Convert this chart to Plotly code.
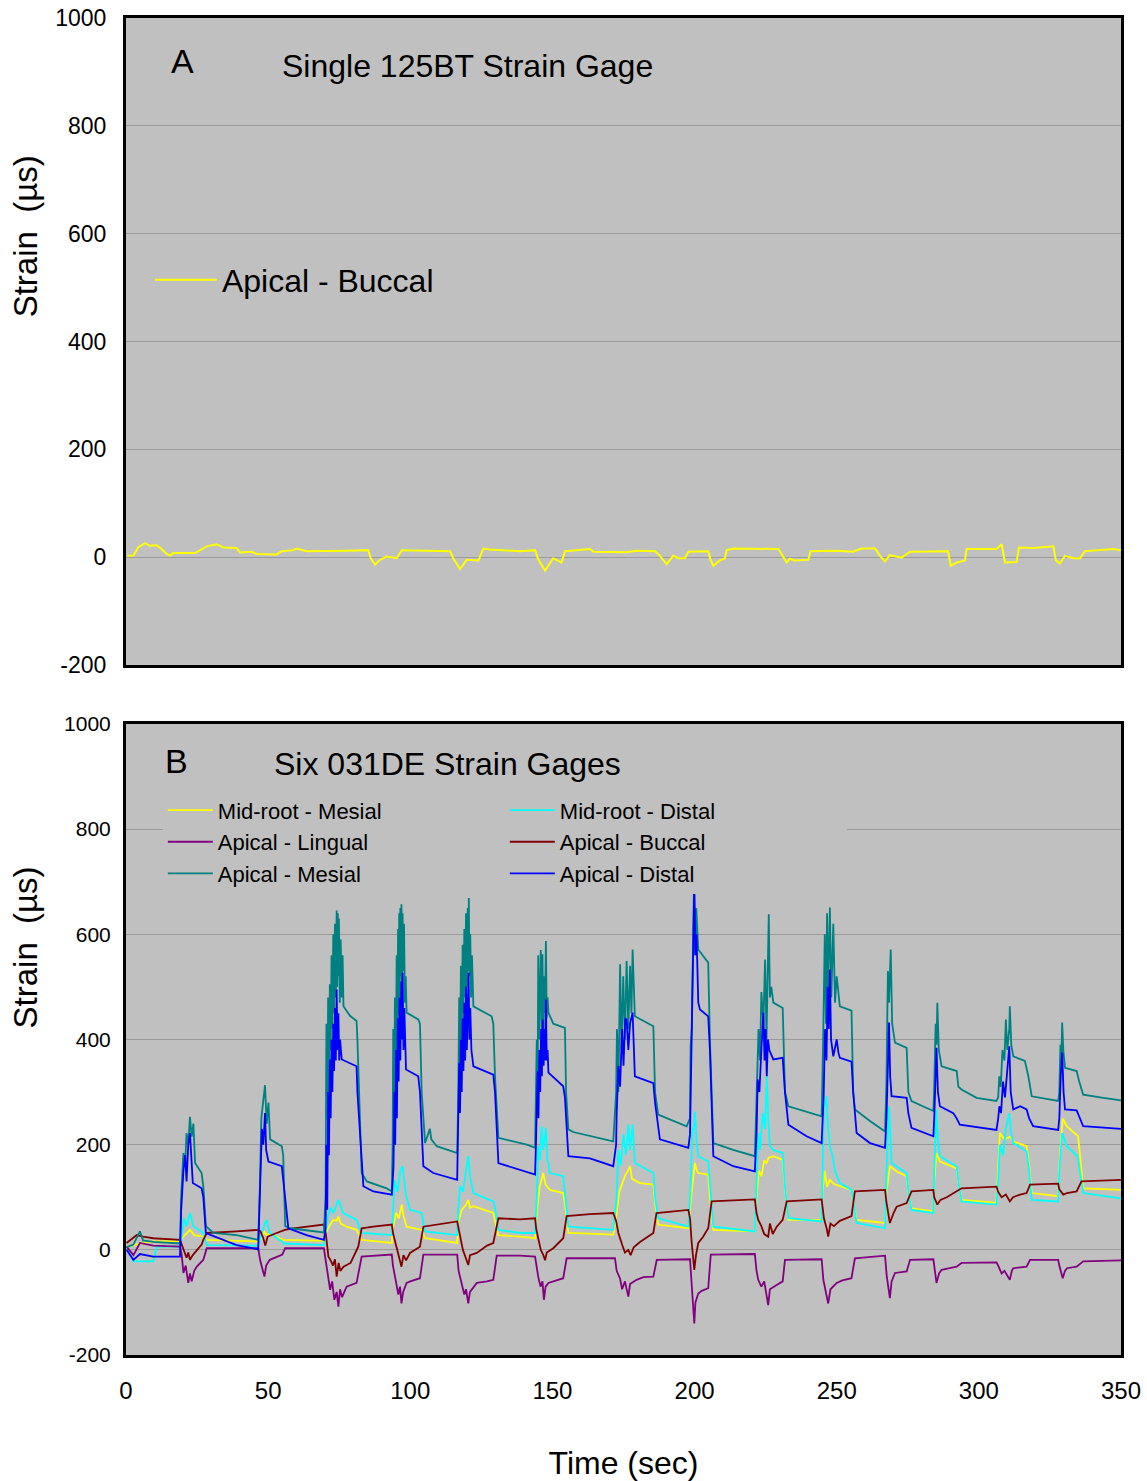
import plotly.graph_objects as go

FONT = "Liberation Sans, Arial, Helvetica, sans-serif"

# ---------------- Panel A : single 125BT gage (Apical - Buccal) ----------------
t_a = [0.5, 2.6, 4.3, 6.7, 8.4, 10.8, 12.5, 14.3, 15.5, 16.6, 24.3, 26.6, 28.4, 31.9, 34.2, 38.9, 40.1,
       44.2, 46.0, 53.0, 54.8, 58.9, 60.0, 63.5, 70.6, 77.6, 85.2, 86.1, 87.6, 89.3, 91.7, 95.2, 97.0,
       114.0, 115.1, 117.5, 119.8, 124.0, 125.7, 127.9, 138.6, 143.9, 145.0, 147.4, 150.3, 153.2, 154.4,
       163.2, 164.4, 176.1, 179.6, 186.1, 187.2, 190.2, 192.5, 194.3, 196.6, 197.8, 204.8, 205.6, 206.6,
       208.9, 210.7, 211.3, 213.6, 229.5, 230.6, 232.4, 233.5, 235.3, 240.0, 240.8, 250.0, 255.8, 258.8,
       263.5, 265.2, 267.0, 268.7, 272.8, 275.8, 289.2, 290.1, 292.2, 295.1, 295.7, 306.2, 308.0, 309.2,
       313.3, 314.1, 319.1, 326.2, 327.1, 328.5, 330.3, 333.2, 335.6, 337.3, 347.3, 350.0]
v_a = [2.5, 3, 18, 26, 21, 22, 15, 6, 3, 7.5, 7.5, 15, 20, 24, 18, 17, 8.7,
       10, 6, 5, 11, 13, 16, 11, 11, 12, 13, -2, -14, -5, 1, -2, 13,
       11, -2, -22, -5, -6, 16, 14, 11, 13, -4, -25, -2, -10, 11,
       15, 10, 9, 12, 11, 6, -13, 2.5, -2, -2, 10, 11, -4, -16,
       -6, -2, 13, 16, 15, 6, -10, -3, -6, -5, 11, 12, 10, 16,
       16, 2.5, -8, 3.7, -1, 10, 11, -16, -10, -6, 15, 15, 24, -10,
       -9, 18, 17, 20, -6, -12, 2.5, -2, -2, 11, 15, 13]

# ---------------- Panel B : six 031DE gages ----------------
# Mid-root - Mesial (yellow)
t_mm = [0.2, 4.9, 9.6, 19.0, 19.6, 21.3, 22.5, 24.0, 27.2, 28.4, 46.5,
        47.4, 48.5, 49.5, 50.6, 55.3, 69.6,
        70.2, 71.5, 72.9, 74.1, 74.7, 75.5, 77.6, 81.1, 82.9, 93.5,
        93.8, 95.0, 96.0, 97.0, 97.6, 98.7, 104.0, 105.2, 116.5,
        116.9, 118.0, 119.5, 120.4, 121.0, 122.2, 129.2, 129.8, 131.0, 138.6, 143.9,
        144.7, 145.5, 146.8, 147.5, 148.5, 149.1, 153.8, 154.6, 155.6, 171.4,
        172.6, 173.5, 174.5, 175.5, 176.7, 177.3, 178.0, 180.8, 185.5, 186.1, 187.2, 197.8,
        198.6, 199.5, 200.1, 200.8, 201.3, 204.8, 205.4, 206.6, 221.2,
        221.8, 222.6, 223.5, 224.5, 225.3, 226.0, 227.7, 231.0, 231.8, 233.0, 244.7,
        245.0, 245.8, 246.6, 247.6, 249.0, 251.1, 255.2, 255.8, 257.0, 267.0,
        267.5, 268.7, 271.1, 274.6, 275.2, 276.3, 284.0,
        284.3, 285.1, 286.3, 292.2, 292.8, 293.9, 306.2,
        306.8, 307.4, 309.0, 310.9, 312.5, 316.8, 317.7, 318.6, 327.9,
        328.3, 329.5, 330.9, 333.0, 334.9, 335.6, 336.7, 350.0]
v_mm = [6, 12, 16, 16, 22, 32, 38, 28, 25, 19, 16,
        20, 35, 28, 30, 19, 17,
        30, 45, 57, 55, 63, 50, 44, 38, 19, 13,
        40, 70, 60, 86, 65, 44, 38, 22, 13,
        50, 75, 85, 95, 80, 83, 70, 55, 28, 25, 22,
        80, 120, 146, 125, 118, 114, 108, 80, 32, 29,
        70, 110, 125, 140, 152, 159, 135, 127, 124, 90, 48, 41,
        90, 140, 165, 150, 146, 143, 100, 38, 35,
        100, 150, 140, 170, 165, 175, 178, 171, 120, 57, 57,
        110, 150, 120, 133, 125, 121, 114, 90, 57, 51,
        110, 159, 149, 140, 110, 79, 73,
        130, 184, 168, 155, 130, 95, 89,
        150, 222, 210, 215, 205, 197, 160, 108, 102,
        160, 250, 235, 225, 216, 180, 117, 114]

# Mid-root - Distal (cyan)
t_md = [0.2, 2.6, 9.6, 10.8, 19.0,
        19.6, 20.5, 21.3, 22.5, 23.7, 27.2, 28.4, 46.5,
        47.4, 48.5, 49.5, 50.6, 54.8, 55.5, 69.6,
        70.2, 71.0, 72.0, 73.0, 74.7, 76.4, 81.1, 82.9, 93.5,
        93.8, 94.5, 95.5, 96.5, 97.3, 98.0, 98.5, 99.9, 104.0, 105.2, 116.5,
        116.9, 117.5, 118.5, 119.5, 120.4, 121.0, 122.2, 129.2, 129.8, 131.0, 138.6, 143.9,
        144.5, 145.0, 145.6, 146.2, 146.8, 147.7, 148.2, 148.6, 149.1, 153.8, 154.6, 155.6, 171.4,
        172.6, 173.2, 174.0, 175.0, 175.8, 176.7, 177.3, 178.2, 178.6, 179.0, 185.5, 186.1, 187.2, 197.8,
        198.6, 199.2, 199.9, 200.1, 200.8, 201.3, 204.8, 205.4, 206.6, 221.2,
        221.8, 222.4, 223.0, 224.0, 224.8, 225.4, 225.9, 226.5, 227.7, 231.0, 231.8, 233.0, 244.7,
        245.0, 245.5, 246.4, 247.0, 247.6, 248.5, 249.4, 251.1, 255.2, 255.8, 257.0, 267.0,
        267.5, 268.4, 269.3, 274.6, 275.2, 276.3, 284.0,
        284.3, 285.1, 285.6, 286.3, 292.2, 292.8, 293.9, 306.2,
        306.8, 307.4, 308.5, 309.5, 310.7, 311.4, 312.1, 316.8, 317.7, 318.6, 327.9,
        328.3, 329.3, 330.9, 334.7, 335.6, 336.7, 350.0]
v_md = [6, -22, -22, 6, 6,
        32, 60, 45, 70, 45, 32, 9, 8,
        25, 45, 57, 32, 16, 12, 9,
        30, 63, 80, 70, 95, 70, 57, 32, 28,
        60, 133, 110, 150, 159, 120, 103, 76, 70, 35, 28,
        80, 121, 110, 150, 178, 140, 108, 92, 80, 38, 32, 32,
        100, 197, 170, 235, 190, 232, 170, 165, 146, 140, 100, 44, 38,
        100, 190, 160, 220, 180, 238, 190, 238, 190, 165, 146, 100, 60, 44,
        120, 220, 240, 263, 200, 178, 168, 120, 44, 35,
        150, 222, 190, 260, 230, 330, 250, 197, 190, 184, 120, 60, 54,
        150, 267, 292, 230, 197, 180, 150, 127, 114, 90, 51, 41,
        150, 273, 165, 146, 110, 76, 70,
        150, 267, 210, 178, 159, 130, 92, 86,
        130, 200, 180, 230, 260, 220, 203, 187, 150, 95, 92,
        150, 222, 197, 178, 150, 108, 98]

# Apical - Lingual (purple)
t_al = [0.2, 2.6, 4.9, 9.6, 19.0,
        19.6, 20.2, 21.0, 21.9, 22.5, 23.1, 24.0, 24.9, 26.0, 27.2, 28.4, 46.5,
        47.2, 48.0, 48.7, 49.3, 50.6, 55.0, 56.0, 69.6,
        70.3, 71.0, 71.8, 72.5, 73.3, 74.1, 74.7, 75.3, 76.0, 77.6, 81.1, 82.9, 93.5,
        93.9, 95.0, 95.8, 96.4, 96.9, 97.5, 98.7, 100.0, 103.4, 104.6, 116.5,
        117.0, 118.0, 119.0, 119.6, 120.4, 121.0, 123.4, 127.0, 129.2, 130.4, 138.6, 143.9,
        144.3, 145.0, 145.8, 146.5, 147.0, 147.6, 148.6, 150.3, 153.8, 155.0, 172.0,
        172.6, 173.8, 174.5, 175.5, 176.7, 177.3, 179.6, 182.0, 185.5, 186.7, 198.4,
        198.8, 199.4, 199.9, 200.3, 201.3, 202.5, 204.8, 205.7, 221.2,
        221.8, 222.4, 223.5, 224.5, 225.9, 226.5, 228.9, 231.0, 231.8, 244.7,
        245.3, 246.2, 247.0, 247.8, 250.0, 252.0, 255.2, 256.4, 267.0,
        267.6, 268.7, 269.3, 270.5, 274.6, 275.8, 284.0,
        284.5, 285.1, 286.0, 286.9, 292.2, 293.9, 306.2,
        306.8, 308.0, 309.0, 310.9, 311.6, 312.1, 316.8, 318.0, 327.9,
        328.3, 329.5, 330.3, 331.0, 334.4, 336.7, 350.0]
v_al = [6, -10, 13, 8, 6,
        -10, -44, -30, -63, -45, -60, -40, -32, -25, -19, 3, 3,
        -20, -35, -51, -30, -19, -9, 3, 3,
        -20, -50, -76, -60, -95, -80, -108, -75, -90, -70, -63, -13, -9,
        -30, -60, -85, -70, -102, -80, -63, -60, -54, -9, -9,
        -40, -60, -85, -75, -102, -80, -63, -60, -57, -11, -11, -13,
        -30, -51, -70, -60, -95, -70, -63, -60, -54, -16, -16,
        -40, -55, -75, -60, -89, -65, -57, -52, -51, -19, -18,
        -50, -90, -140, -100, -83, -78, -73, -9, -8,
        -40, -57, -70, -60, -105, -75, -67, -60, -19, -18,
        -57, -80, -102, -75, -63, -58, -54, -16, -11,
        -50, -92, -60, -44, -41, -19, -18,
        -40, -63, -45, -38, -32, -25, -24,
        -30, -45, -40, -57, -40, -35, -32, -19, -19,
        -30, -54, -40, -35, -32, -22, -20]

# Apical - Buccal (maroon)
t_ab = [0.2, 3.8, 6.0, 9.6, 19.0,
        19.6, 20.5, 21.3, 21.9, 22.5, 23.5, 24.9, 26.6, 27.2, 28.4, 38.9, 46.5,
        47.3, 48.3, 49.0, 49.8, 53.0, 55.9, 58.9, 69.6,
        70.3, 71.2, 72.0, 72.8, 73.5, 74.1, 74.8, 75.4, 76.5, 79.0, 81.7, 82.9, 87.0, 93.5,
        94.0, 95.2, 96.0, 96.9, 97.6, 98.5, 99.9, 103.4, 104.6, 110.0, 116.5,
        117.0, 117.5, 118.5, 119.5, 120.4, 121.0, 123.4, 127.0, 129.2, 131.0, 138.6, 143.9,
        144.3, 145.0, 145.9, 146.8, 147.4, 148.0, 150.3, 153.8, 155.0, 163.2, 171.4,
        172.4, 173.2, 174.5, 175.5, 176.7, 177.5, 178.6, 180.8, 185.5, 186.6, 197.8,
        198.4, 199.0, 199.9, 200.5, 201.3, 203.0, 204.8, 206.0, 213.6, 221.2,
        221.8, 222.4, 223.5, 224.5, 225.9, 226.5, 227.5, 228.9, 231.0, 232.4, 244.7,
        245.1, 245.5, 246.5, 247.0, 247.8, 249.0, 251.1, 255.2, 256.4, 267.0,
        267.5, 268.7, 270.0, 271.1, 274.6, 276.3, 284.0,
        284.3, 285.4, 286.5, 288.7, 292.2, 293.9, 306.2,
        306.8, 308.0, 309.5, 310.9, 312.0, 314.5, 316.8, 318.0, 327.9,
        328.3, 329.7, 331.0, 334.4, 336.1, 350.0]
v_ab = [13, 28, 25, 22, 19,
        10, -5, -15, -5, -19, -10, 0, 10, 19, 32, 35, 38,
        35, 22, 8, 25, 32, 38, 41, 48,
        30, -13, -20, -30, -18, -51, -25, -40, -32, -25, 6, 41, 44, 48,
        30, 6, -15, -32, -10, -20, -6, 6, 44, 48, 54,
        40, 25, 0, -15, -29, -10, -6, 8, 13, 60, 58, 60,
        40, 22, 0, -10, -20, -5, 3, 22, 64, 68, 70,
        55, 32, 10, -5, 0, -10, 5, 15, 32, 70, 76,
        60, 13, -38, -10, 13, 25, 41, 92, 94, 96,
        70, 57, 45, 30, 25, 50, 30, 44, 57, 92, 96,
        80, 60, 40, 25, 50, 45, 55, 64, 111, 114,
        90, 51, 70, 82, 89, 111, 114,
        100, 86, 95, 100, 111, 117, 120,
        110, 100, 105, 92, 100, 105, 108, 124, 126,
        115, 105, 108, 111, 130, 133]

# Apical - Mesial (teal)
t_am = [0.2, 2.6, 4.9, 6.0, 9.6, 19.0,
        19.4, 20.2, 20.8, 21.3, 21.9, 22.5, 23.1, 23.7, 24.3, 26.6, 27.2, 28.1, 30.7, 38.9, 46.5,
        47.1, 47.6, 48.3, 48.9, 49.5, 50.1, 50.7, 54.8, 55.3, 56.0, 57.7, 69.6,
        70.2, 70.5, 70.8, 71.1, 71.4, 71.7, 72.0, 72.3, 72.6, 72.9, 73.2, 73.5, 73.8, 74.1, 74.3, 74.5,
        74.7, 74.9, 75.2, 75.5, 75.9, 76.2, 76.5, 78.8, 81.1, 81.4,
        82.9, 84.7, 91.7, 93.5,
        93.8, 94.0, 94.3, 94.6, 94.9, 95.2, 95.5, 95.7, 95.9, 96.1, 96.3, 96.5, 96.7, 96.9, 97.1, 97.3,
        97.5, 97.8, 98.1, 98.4, 98.7, 102.8, 103.4,
        104.0, 105.2, 106.9, 107.4, 109.3, 116.5,
        116.9, 117.2, 117.5, 117.8, 118.1, 118.4, 118.7, 119.0, 119.3, 119.6, 119.9, 120.2, 120.4, 120.6,
        120.8, 121.1, 121.4, 121.7, 122.2, 128.6, 129.2,
        129.8, 131.0, 141.0, 143.9,
        144.2, 144.5, 144.8, 145.0, 145.3, 145.6, 145.9, 146.2, 146.5, 146.8, 147.1, 147.4, 147.7, 148.0,
        148.3, 148.6, 150.3,
        154.4, 154.8, 155.6, 157.3, 171.4,
        172.4, 172.7, 173.2, 173.8, 174.3, 174.9, 175.5, 176.1, 176.7, 177.3, 177.8, 178.2, 178.7,
        179.0, 185.5, 186.1, 187.2, 197.2,
        198.4, 198.6, 199.0, 199.5, 199.8, 200.2, 200.6, 201.3, 204.8, 205.4, 206.6, 213.6, 221.2,
        221.6, 222.1, 222.5, 223.0, 223.5, 224.2, 224.8, 225.3, 225.6, 226.1, 226.5, 227.0, 227.7,
        231.0, 231.8, 233.0, 244.7,
        245.0, 245.3, 245.8, 246.2, 246.6, 247.0, 247.6, 248.1, 248.8, 249.4, 250.0, 251.1, 255.2,
        255.8, 256.4, 261.7, 267.0,
        267.5, 268.0, 268.4, 269.0, 269.5, 270.5, 274.6, 275.2, 276.3, 284.0,
        284.3, 284.8, 285.1, 285.4, 285.9, 286.9, 292.2, 292.8, 293.9, 299.2, 306.2,
        306.8, 307.2, 307.7, 308.3, 309.0, 309.5, 310.0, 310.7, 310.9, 311.4, 312.1, 316.2, 317.4,
        318.6, 327.9,
        328.3, 328.7, 329.0, 329.3, 329.7, 330.3, 334.4, 335.3, 336.7, 343.8, 350.0]
v_am = [5, 10, 35, 18, 15, 12,
        100, 184, 160, 222, 200, 253, 215, 240, 165, 146, 120, 45, 32, 28, 19,
        120, 250, 290, 313, 240, 280, 210, 197, 180, 45, 41, 33,
        100, 430, 250, 480, 300, 505, 380, 560, 420, 600, 450, 620, 480, 645, 500, 640,
        520, 630, 470, 590, 480, 560, 463, 445, 435, 400,
        146, 130, 117, 111,
        200, 420, 250, 480, 300, 560, 400, 610, 450, 640, 480, 650, 520, 657, 500, 640,
        530, 620, 470, 520, 451, 438, 430,
        300, 203, 230, 210, 197, 184,
        300, 480, 350, 540, 400, 580, 450, 610, 480, 640, 500, 650, 530, 669,
        520, 600, 480, 560, 463, 444, 430,
        330, 213, 200, 194,
        300, 400, 300, 560, 400, 540, 570, 420, 562, 380, 520, 450, 587, 440,
        480, 451, 430,
        422, 300, 229, 224, 206,
        299, 420, 300, 543, 380, 520, 400, 549, 420, 540, 450, 571, 480,
        444, 425, 300, 257, 235,
        250, 387, 420, 600, 698, 560, 650, 571, 546, 400, 203, 190, 178,
        250, 336, 420, 360, 490, 430, 552, 400, 520, 638, 480, 500, 470,
        460, 300, 273, 254,
        320, 420, 600, 430, 640, 500, 651, 480, 620, 470, 520, 463, 455,
        300, 267, 245, 225,
        320, 530, 470, 571, 430, 394, 384, 300, 283, 264,
        310, 430, 390, 470, 380, 349, 340, 310, 305, 289, 283,
        290, 330, 310, 380, 360, 438, 380, 420, 463, 390, 368, 359, 330,
        292, 283,
        300, 390, 360, 432, 380, 346, 340, 320, 295, 289, 284]

# Apical - Distal (blue)
t_ad = [0.2, 2.6, 4.9, 9.6, 19.0,
        19.4, 20.2, 20.8, 21.3, 21.9, 22.5, 23.1, 23.5, 26.6, 27.2, 28.1, 33.1, 38.9, 46.5,
        47.4, 47.8, 48.3, 48.9, 49.3, 50.1, 54.8, 55.6, 57.1, 63.5, 69.6,
        70.2, 70.5, 70.8, 71.1, 71.4, 71.7, 72.0, 72.3, 72.6, 72.9, 73.2, 73.5, 73.8, 74.1, 74.4, 74.7,
        75.0, 75.3, 75.9, 81.1, 81.4, 83.5, 87.0, 93.5,
        93.8, 94.1, 94.4, 94.7, 95.0, 95.3, 95.6, 95.9, 96.2, 96.5, 96.8, 97.0, 97.3, 97.6, 97.9, 98.2,
        98.5, 102.8, 103.4, 104.6, 108.1, 116.5,
        116.9, 117.2, 117.5, 117.8, 118.1, 118.4, 118.7, 119.0, 119.3, 119.6, 119.9, 120.2, 120.5, 120.8,
        121.1, 121.5, 122.2, 129.2, 129.8, 131.0,
        138.6, 143.9,
        144.2, 144.5, 144.8, 145.1, 145.4, 145.7, 146.0, 146.3, 146.6, 146.9, 147.2, 147.5, 147.7, 148.0,
        148.3, 148.6, 153.8, 154.4, 155.6,
        163.2, 171.4,
        172.4, 172.6, 173.2, 173.8, 174.5, 175.0, 175.6, 176.1, 176.7, 177.3, 178.2, 178.7, 179.0, 185.5,
        186.1, 187.8, 197.8,
        198.4, 198.7, 199.2, 199.9, 200.3, 200.7, 201.3, 201.9, 204.8, 205.4, 206.6, 213.6, 221.2,
        221.8, 222.2, 222.8, 223.5, 224.2, 224.6, 225.0, 225.4, 225.8, 226.3, 227.7, 231.0, 231.8, 233.0,
        239.4, 244.7,
        245.0, 245.4, 245.9, 246.4, 246.8, 247.2, 247.6, 248.0, 248.8, 250.0, 250.6, 251.1, 255.2, 255.8,
        257.0, 261.7, 267.0,
        267.5, 268.0, 268.4, 268.8, 269.3, 274.6, 275.2, 276.3, 284.0,
        284.3, 284.8, 285.1, 285.6, 286.3, 291.0, 292.2, 293.3, 300.4, 306.2,
        306.8, 307.2, 307.8, 308.5, 309.2, 310.0, 310.7, 311.2, 312.1, 314.5, 316.8, 317.7, 319.1, 327.9,
        328.3, 328.8, 329.3, 329.8, 330.3, 334.4, 335.6, 336.7, 350.0]
v_ad = [0, -19, -8, -13, -13,
        76, 150, 180, 130, 200, 222, 170, 127, 117, 100, 32, 22, 9, 1,
        150, 230, 200, 260, 190, 168, 159, 120, 41, 28, 19,
        40, 200, 76, 300, 180, 362, 250, 400, 300, 430, 340, 460, 360, 495, 380, 450,
        360, 400, 362, 349, 300, 121, 111, 105,
        130, 159, 300, 200, 380, 250, 440, 320, 480, 360, 510, 400, 527, 380, 460, 360,
        343, 330, 300, 159, 146, 133,
        250, 355, 260, 400, 300, 440, 340, 470, 360, 500, 380, 510, 527, 400,
        460, 380, 349, 333, 300, 165,
        152, 143,
        200, 270, 340, 250, 380, 300, 420, 330, 438, 350, 420, 360, 476, 360,
        380, 337, 311, 290, 178,
        174, 159,
        200, 260, 350, 310, 420, 350, 440, 438, 380, 430, 451, 360, 330, 317,
        280, 210, 194,
        220, 324, 500, 695, 560, 600, 470, 457, 444, 380, 178, 159, 149,
        220, 324, 300, 380, 451, 360, 420, 330, 400, 380, 362, 365, 300, 238,
        216, 203,
        240, 292, 420, 360, 500, 420, 533, 400, 368, 400, 375, 365, 358, 300,
        222, 203, 194,
        250, 350, 432, 330, 292, 289, 260, 232, 216,
        250, 330, 384, 300, 273, 260, 250, 238, 232, 228,
        250, 273, 260, 320, 290, 350, 387, 300, 267, 273, 267, 250, 235, 228,
        250, 330, 375, 300, 267, 265, 250, 235, 230]

y_ticks = [-200, 0, 200, 400, 600, 800, 1000]
y_tick_text = ["-200", "0", "200", "400", "600", "800", "1000"]
x_ticks = [0, 50, 100, 150, 200, 250, 300, 350]

series_b = [
    ("Mid-root - Mesial", t_mm, v_mm, "#ffff00"),
    ("Mid-root - Distal", t_md, v_md, "#00ffff"),
    ("Apical - Lingual", t_al, v_al, "#800080"),
    ("Apical - Buccal", t_ab, v_ab, "#800000"),
    ("Apical - Mesial", t_am, v_am, "#008080"),
    ("Apical - Distal", t_ad, v_ad, "#0000ff"),
]

fig = go.Figure()
fig.add_trace(go.Scatter(x=t_a, y=v_a, mode="lines", name="Apical - Buccal",
                         line=dict(color="#ffff00", width=2), xaxis="x", yaxis="y",
                         legend="legend"))
for name, t, v, c in series_b:
    fig.add_trace(go.Scatter(x=t, y=v, mode="lines", name=name,
                             line=dict(color=c, width=1.8), xaxis="x2", yaxis="y2",
                             legend="legend2"))

axis_common = dict(showline=True, mirror=True, linecolor="black", linewidth=3,
                   zeroline=False, automargin=False)

fig.update_layout(
    width=1147, height=1481,
    margin=dict(l=126, r=26, t=18, b=126),
    paper_bgcolor="white", plot_bgcolor="#c0c0c0",
    font=dict(family=FONT, color="black"),
    showlegend=True,
    xaxis=dict(domain=[0, 1], anchor="y", range=[0, 350], showticklabels=False,
               showgrid=False, ticks="", **axis_common),
    yaxis=dict(domain=[0.5161, 1], anchor="x", range=[-200, 1000],
               tickvals=y_ticks, ticktext=y_tick_text,
               showgrid=True, gridcolor="#9a9a9a", gridwidth=1,
               ticks="outside", ticklen=12, tickcolor="rgba(0,0,0,0)",
               tickfont=dict(size=23), **axis_common),
    xaxis2=dict(domain=[0, 1], anchor="y2", range=[0, 350], tickvals=x_ticks,
                showgrid=False, ticks="outside", ticklen=12, tickcolor="rgba(0,0,0,0)",
                tickfont=dict(size=24),
                title=dict(text="Time (sec)", font=dict(size=32), standoff=52),
                **axis_common),
    yaxis2=dict(domain=[0, 0.472], anchor="x2", range=[-200, 1000],
                tickvals=y_ticks, ticktext=y_tick_text,
                showgrid=True, gridcolor="#9a9a9a", gridwidth=1,
                ticks="outside", ticklen=8, tickcolor="rgba(0,0,0,0)",
                tickfont=dict(size=21), **axis_common),
    legend=dict(x=0.024, y=0.804, xanchor="left", yanchor="middle", bgcolor="rgba(0,0,0,0)",
                font=dict(size=32), itemwidth=62),
    legend2=dict(x=0.037, y=0.3838, xanchor="left", yanchor="middle", bgcolor="#c0c0c0",
                 orientation="h", entrywidth=282, entrywidthmode="pixels",
                 font=dict(size=22), itemwidth=45, traceorder="normal"),
    annotations=[
        dict(xref="x", yref="y", x=19.7, y=920, text="A", showarrow=False,
             font=dict(size=34), xanchor="center", yanchor="middle"),
        dict(xref="x", yref="y", x=54.2, y=911, text="Single 125BT Strain Gage", showarrow=False,
             font=dict(size=32), xanchor="left", yanchor="middle"),
        dict(xref="x2", yref="y2", x=17.6, y=930, text="B", showarrow=False,
             font=dict(size=34), xanchor="center", yanchor="middle"),
        dict(xref="x2", yref="y2", x=51.4, y=924, text="Six 031DE Strain Gages", showarrow=False,
             font=dict(size=32), xanchor="left", yanchor="middle"),
        dict(xref="paper", yref="y", x=-0.1015, y=595, text="Strain  (µs)", showarrow=False,
             textangle=-90, font=dict(size=33), xanchor="center", yanchor="middle"),
        dict(xref="paper", yref="y2", x=-0.1015, y=575, text="Strain  (µs)", showarrow=False,
             textangle=-90, font=dict(size=33), xanchor="center", yanchor="middle"),
    ],
)

fig.write_html("out.html", config={"displayModeBar": False},
               post_script="document.body.style.margin='0';document.body.style.overflow='hidden';")
